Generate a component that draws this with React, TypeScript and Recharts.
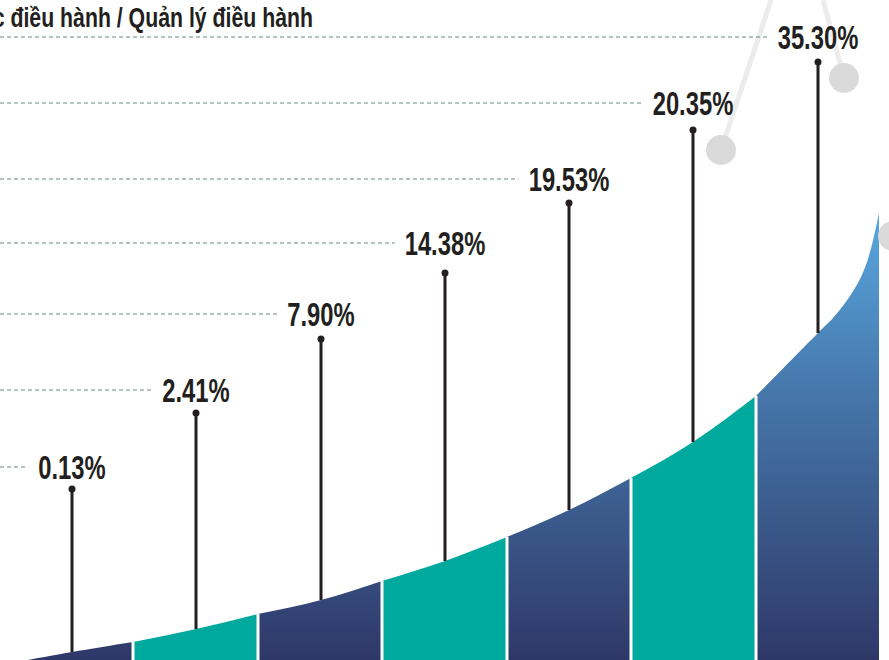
import React from 'react';
import { ComposedChart, Area, XAxis, YAxis, ReferenceLine, ReferenceDot } from 'recharts';

// curve outline (x along the chart, height above the bottom edge)
const curveX = [28, 72, 133, 196, 258, 321, 382, 445, 507, 569, 631, 693, 756, 818, 833, 850, 867, 879];
const curveH = [0, 8, 18, 31, 46, 60, 79, 99, 123, 150, 182, 218, 264, 327, 342, 364, 398, 447];

// edges of the seven coloured bands
const bandEdges = [28, 133, 258, 382, 507, 631, 756, 879];

// one pin per band
const pinX = [72, 196, 321, 445, 569, 693, 818];
const pinTop = [171, 247, 321, 387, 457, 530, 598];
const labelLevel = [193, 270, 346, 417, 481, 557, 623];
const pctLabels = ['0.13%', '2.41%', '7.90%', '14.38%', '19.53%', '20.35%', '35.30%'];

const topTitle = 'Giám đốc điều hành / Quản lý điều hành';

// decorative grey nodes in the top right corner
const nodes = [
  { x: 721, h: 510, toX: 771, toH: 660 },
  { x: 844, h: 582, toX: 823, toH: 660 },
  { x: 893, h: 424, toX: 893, toH: 424 },
];

const W = 889;
const H = 660;
const NAVY = 'url(#navyGrad)';
const TEAL = '#00a99d';
const INK = '#231f20';
const DASH = '#6f8585';

const bandCount = bandEdges.length - 1;

const chartData = curveX.map((x, k) => {
  const row: Record<string, number | null> = { x };
  for (let i = 0; i < bandCount; i++) {
    row[`s${i}`] = x >= bandEdges[i] && x <= bandEdges[i + 1] ? curveH[k] : null;
  }
  return row;
});

const heightAt = (x: number) => curveH[curveX.indexOf(x)];

const charW: Record<string, number> = { '.': 0.278, '%': 0.889 };
const LABEL_SIZE = 34;
const LABEL_SCALE = 0.7;
const textWidth = (s: string) =>
  s.split('').reduce((a, c) => a + (charW[c] ?? 0.556), 0) * LABEL_SIZE * LABEL_SCALE;

const renderPct = (viewBox: any, text: string) => {
  const cx = viewBox.x + viewBox.width / 2;
  const cy = viewBox.y + viewBox.height / 2;
  const w = textWidth(text);
  return (
    <g>
      <line x1={0} x2={cx - w / 2 - 10} y1={cy} y2={cy} stroke={DASH} strokeWidth={1} strokeDasharray="4 3" />
      <text
        transform={`translate(${cx},${cy + 12}) scale(${LABEL_SCALE},1)`}
        textAnchor="middle"
        fontFamily="'Liberation Sans', Arial, sans-serif"
        fontWeight={700}
        fontSize={LABEL_SIZE}
        fill={INK}
      >
        {text}
      </text>
    </g>
  );
};

const renderTitle = (viewBox: any) => (
  <text
    transform={`translate(${viewBox.x + viewBox.width / 2},${viewBox.y + viewBox.height / 2}) scale(0.76,1)`}
    textAnchor="end"
    fontFamily="'Liberation Sans', Arial, sans-serif"
    fontWeight={700}
    fontSize={28}
    fill={INK}
  >
    {topTitle}
  </text>
);

export default function App() {
  return (
    <div style={{ position: 'absolute', left: 0, top: 0, width: W, height: H, background: '#fff', overflow: 'hidden' }}>
      <ComposedChart width={W} height={H} data={chartData} margin={{ top: 0, right: 0, bottom: 0, left: 0 }}>
        <defs>
          <linearGradient id="navyGrad" gradientUnits="userSpaceOnUse" x1={0} y1={213} x2={0} y2={660}>
            <stop offset="0%" stopColor="#58a8e0" />
            <stop offset="40%" stopColor="#4677ab" />
            <stop offset="100%" stopColor="#2e3868" />
          </linearGradient>
        </defs>
        <XAxis dataKey="x" type="number" domain={[0, W]} hide allowDataOverflow />
        <YAxis type="number" domain={[0, H]} hide allowDataOverflow />

        {Array.from({ length: bandCount }, (_, i) => (
          <Area
            key={`s${i}`}
            type="natural"
            dataKey={`s${i}`}
            fill={i % 2 === 0 ? NAVY : TEAL}
            fillOpacity={1}
            stroke="none"
            connectNulls={false}
            dot={false}
            activeDot={false}
            isAnimationActive={false}
          />
        ))}

        {bandEdges.slice(1, -1).map((x) => (
          <ReferenceLine
            key={`edge${x}`}
            segment={[{ x, y: 0 }, { x, y: heightAt(x) }]}
            stroke="#ffffff"
            strokeWidth={3}
          />
        ))}

        {nodes.map((n, i) => (
          <ReferenceLine
            key={`link${i}`}
            segment={[{ x: n.x, y: n.h }, { x: n.toX, y: n.toH }]}
            stroke="#ececec"
            strokeWidth={5}
            ifOverflow="visible"
          />
        ))}
        {nodes.map((n, i) => (
          <ReferenceDot key={`node${i}`} x={n.x} y={n.h} r={15} fill="#dadada" stroke="none" ifOverflow="visible" />
        ))}

        {pinX.map((x, i) => (
          <ReferenceLine
            key={`pin${i}`}
            segment={[{ x, y: heightAt(x) }, { x, y: pinTop[i] }]}
            stroke={INK}
            strokeWidth={3}
          />
        ))}
        {pinX.map((x, i) => (
          <ReferenceDot key={`pinDot${i}`} x={x} y={pinTop[i]} r={3.5} fill={INK} stroke="none" />
        ))}

        {pinX.map((x, i) => (
          <ReferenceDot
            key={`lbl${i}`}
            x={x}
            y={labelLevel[i]}
            r={0}
            fill="none"
            stroke="none"
            label={(p: any) => renderPct(p.viewBox, pctLabels[i])}
          />
        ))}

        <ReferenceDot
          x={313}
          y={633}
          r={0}
          fill="none"
          stroke="none"
          label={(p: any) => renderTitle(p.viewBox)}
        />
      </ComposedChart>
    </div>
  );
}
